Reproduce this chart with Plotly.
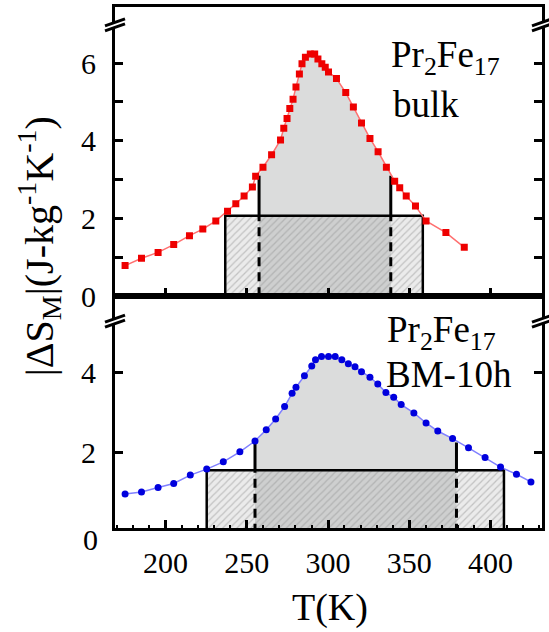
import plotly.graph_objects as go

# |ΔS_M|(T) for Pr2Fe17: bulk (top panel) and ball-milled 10 h (bottom panel)
T_bulk = [175.2, 185.3, 195.5, 205.1, 214.8, 223.0, 231.0, 238.2, 243.3, 248.4,
          253.5, 255.5, 260.0, 265.3, 270.8, 272.8, 274.8, 276.5, 278.5, 280.3,
          282.4, 284.0, 286.1, 289.1, 291.8, 293.8, 296.2, 298.3, 300.3, 305.2,
          310.9, 315.6, 320.6, 325.8, 330.8, 335.9, 341.0, 344.1, 348.1, 353.8,
          360.3, 372.5, 383.8]
dS_bulk = [0.79, 0.98, 1.13, 1.33, 1.56, 1.73, 1.94, 2.19, 2.38, 2.58,
           2.81, 3.09, 3.32, 3.64, 4.02, 4.32, 4.57, 4.83, 5.07, 5.38,
           5.72, 5.98, 6.15, 6.23, 6.23, 6.10, 5.98, 5.89, 5.77, 5.60,
           5.24, 4.87, 4.46, 4.06, 3.72, 3.32, 2.96, 2.79, 2.58, 2.32,
           1.94, 1.64, 1.26]

T_bm = [175.2, 185.3, 195.5, 205.1, 215.3, 225.4, 235.6, 245.8, 255.1, 262.0,
        267.8, 273.3, 277.9, 280.3, 285.5, 290.0, 292.3, 296.0, 300.3, 304.4,
        308.5, 312.5, 316.6, 320.6, 325.8, 330.6, 335.6, 340.4, 345.0, 352.8,
        360.3, 367.5, 376.6, 386.4, 396.6, 406.1, 415.9, 424.8]
dS_bm = [0.97, 1.02, 1.13, 1.23, 1.44, 1.59, 1.77, 2.02, 2.29, 2.57,
         2.84, 3.15, 3.48, 3.63, 3.92, 4.16, 4.32, 4.40, 4.40, 4.40,
         4.32, 4.22, 4.14, 4.02, 3.88, 3.71, 3.50, 3.38, 3.20, 2.99,
         2.74, 2.54, 2.35, 2.12, 1.88, 1.64, 1.46, 1.27]

# FWHM limits (K) with half-maximum, and RCP rectangle limits (K) with height
fwhm_bulk = [257.6, 338.6]
half_bulk = 3.10
rect_bulk = [236.8, 358.3]
rect_h_bulk = 2.07

fwhm_bm = [255.1, 379.0]
half_bm = 2.25
rect_bm = [225.4, 408.2]
rect_h_bm = 1.56

x_tick_vals = [200, 250, 300, 350, 400]
y_ticks_top = [0, 1, 2, 3, 4, 5, 6]
y_labels_top = ["0", "", "2", "", "4", "", "6"]
y_ticks_bot = [2, 4]
y_labels_bot = ["2", "4"]

# ---- page geometry (pixels) ----
W, H = 549, 632
ML, MR, MT, MB = 115, 4, 4, 104
PW, PH = W - ML - MR, H - MT - MB
SPLIT_PX = 295                      # boundary between the two panels
split = (H - MB - SPLIT_PX) / PH


def px_x(px):
    return (px - ML) / PW


def px_y(py):
    return (H - MB - py) / PH


SERIF = '"Liberation Serif", "Times New Roman", "DejaVu Serif", serif'
FILL_GREY = "rgba(150,152,152,0.34)"

fig = go.Figure()


def add_panel(T, dS, fwhm, half, rect, rect_h, xa, ya, color, line_color, symbol):
    # hatched rectangle
    fig.add_trace(go.Scatter(
        x=[rect[0], rect[0], rect[1], rect[1], rect[0]],
        y=[0, rect_h, rect_h, 0, 0],
        mode="lines", fill="toself", line=dict(width=0),
        fillpattern=dict(shape="/", bgcolor="#ebebeb", fgcolor="#999999",
                         size=5, solidity=0.25),
        xaxis=xa, yaxis=ya, hoverinfo="skip", showlegend=False))
    # grey area under the curve between the FWHM limits
    px_ = [fwhm[0], fwhm[0]] + [t for t in T if fwhm[0] < t < fwhm[1]] + [fwhm[1], fwhm[1], fwhm[0]]
    py_ = [0, half] + [v for t, v in zip(T, dS) if fwhm[0] < t < fwhm[1]] + [half, 0, 0]
    fig.add_trace(go.Scatter(
        x=px_, y=py_, mode="lines", fill="toself", fillcolor=FILL_GREY,
        line=dict(width=0), xaxis=xa, yaxis=ya, hoverinfo="skip", showlegend=False))
    # rectangle outline
    fig.add_trace(go.Scatter(
        x=[rect[0], rect[0], rect[1], rect[1]],
        y=[0, rect_h, rect_h, 0],
        mode="lines", line=dict(color="black", width=2.5),
        xaxis=xa, yaxis=ya, hoverinfo="skip", showlegend=False))
    for tf in fwhm:
        # solid part from rectangle top up to the curve
        fig.add_trace(go.Scatter(
            x=[tf, tf], y=[rect_h, half], mode="lines",
            line=dict(color="black", width=3),
            xaxis=xa, yaxis=ya, hoverinfo="skip", showlegend=False))
        # dashed part inside the rectangle
        fig.add_trace(go.Scatter(
            x=[tf, tf], y=[0, rect_h], mode="lines",
            line=dict(color="black", width=3, dash="9px,6px"),
            xaxis=xa, yaxis=ya, hoverinfo="skip", showlegend=False))
    # the measured curve
    fig.add_trace(go.Scatter(
        x=T, y=dS, mode="lines+markers",
        line=dict(color=line_color, width=1.5),
        marker=dict(symbol=symbol, size=7, color=color, line=dict(width=0)),
        xaxis=xa, yaxis=ya, showlegend=False))


add_panel(T_bulk, dS_bulk, fwhm_bulk, half_bulk, rect_bulk, rect_h_bulk,
          "x", "y", "#ee0000", "#ff7070", "square")
add_panel(T_bm, dS_bm, fwhm_bm, half_bm, rect_bm, rect_h_bm,
          "x2", "y2", "#0000dd", "#8080ff", "circle")

axis_common = dict(showline=True, linecolor="black", linewidth=3,
                   ticks="inside", ticklen=8, tickwidth=3, tickcolor="black",
                   showgrid=False, zeroline=False,
                   tickfont=dict(family=SERIF, size=30, color="black"))

x_range = [169.0, 431.6]
fig.update_layout(
    width=W, height=H,
    margin=dict(l=ML, r=MR, t=MT, b=MB),
    paper_bgcolor="white", plot_bgcolor="white",
    font=dict(family=SERIF, color="black"),
    xaxis=dict(domain=[0, 1], anchor="y", range=x_range, mirror=True,
               tickvals=x_tick_vals, showticklabels=False,
               minor=dict(dtick=10, ticks="inside", ticklen=3, tickwidth=1.5,
                          tickcolor="black"),
               **axis_common),
    xaxis2=dict(domain=[0, 1], anchor="y2", range=x_range, mirror=True,
                tickvals=x_tick_vals, ticklabelstandoff=6,
                minor=dict(dtick=10, ticks="inside", ticklen=3, tickwidth=1.5,
                           tickcolor="black"),
                **axis_common),
    yaxis=dict(domain=[split, 1], anchor="x", range=[0, 7.44], mirror="ticks",
               tickvals=y_ticks_top, ticktext=y_labels_top,
               ticklabelstandoff=10, **axis_common),
    yaxis2=dict(domain=[0, split], anchor="x2", range=[0.12, 5.90], mirror="ticks",
                tickvals=y_ticks_bot, ticktext=y_labels_bot,
                ticklabelstandoff=10, **axis_common),
)

# axis-break marks on both vertical axes
shapes = []
for yref, yval in (("y", 6.98), ("y2", 5.28)):
    for xa in (0, 1):
        base = dict(xref="paper", xsizemode="pixel", xanchor=xa,
                    yref=yref, ysizemode="pixel", yanchor=yval, layer="above")
        shapes.append(dict(type="path", path="M-11,-5 L11,2 L11,6 L-11,-1 Z",
                           fillcolor="white", line=dict(color="white", width=1), **base))
        shapes.append(dict(type="path", path="M-10,-6 L10,1",
                           line=dict(color="black", width=3), **base))
        shapes.append(dict(type="path", path="M-10,-1 L10,6",
                           line=dict(color="black", width=3), **base))
fig.update_layout(shapes=shapes)

ann_font = dict(family=SERIF, size=37, color="black")
annotations = [
    dict(text="Pr<sub>2</sub>Fe<sub>17</sub>", x=px_x(391), y=px_y(55),
         xanchor="left", yanchor="middle"),
    dict(text="bulk", x=px_x(393), y=px_y(102), xanchor="left", yanchor="middle"),
    dict(text="Pr<sub>2</sub>Fe<sub>17</sub>", x=px_x(387), y=px_y(331),
         xanchor="left", yanchor="middle"),
    dict(text="BM-10h", x=px_x(386), y=px_y(374), xanchor="left", yanchor="middle"),
]
for a in annotations:
    a.update(xref="paper", yref="paper", showarrow=False, font=ann_font)

# zero label of the lower panel sits just below its frame
annotations.append(dict(text="0", xref="paper", yref="paper",
                        x=px_x(100), y=px_y(540),
                        xanchor="right", yanchor="middle",
                        showarrow=False, font=dict(family=SERIF, size=30, color="black")))
# axis titles
annotations.append(dict(text="T(K)", xref="paper", yref="paper",
                        x=px_x(332), y=px_y(608), xanchor="center", yanchor="middle",
                        showarrow=False, font=dict(family=SERIF, size=38, color="black")))
annotations.append(dict(text="|ΔS<sub>M</sub>|(J-kg<sup>-1</sup>K<sup>-1</sup>)",
                        xref="paper", yref="paper", x=px_x(38), y=px_y(245),
                        xanchor="center", yanchor="middle", textangle=-90,
                        showarrow=False, font=dict(family=SERIF, size=40, color="black")))
fig.update_layout(annotations=annotations)

fig.write_html("out.html")
